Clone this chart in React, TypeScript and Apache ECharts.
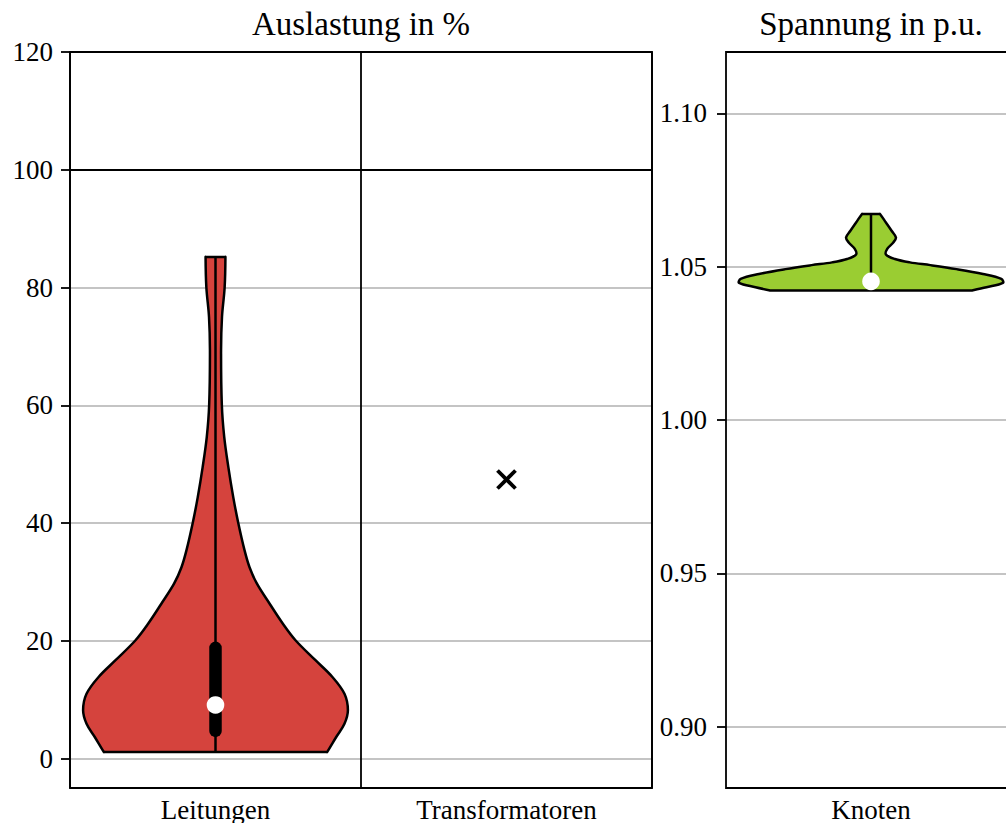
import React, { useEffect, useRef } from "react";
import * as echarts from "echarts";

const FONT = "'Liberation Serif', 'Times New Roman', serif";

const loadCategories = ["Leitungen", "Transformatoren"];
const voltageCategories = ["Knoten"];
const loadTicks = [0, 20, 40, 60, 80, 100, 120];
const voltageTicks = [0.9, 0.95, 1.0, 1.05, 1.1];
const loadLimit = [100];

// Leitungen violin outline: levels (%) and relative half-widths
const leitLevels = [1.1, 3.7, 5.9, 8.2, 11.0, 13.9, 16.7, 20.1, 22.9, 26.3, 29.7, 32.5, 35.4, 40, 44.4, 49.5, 54.6, 60, 69.3, 75, 80, 85.2];
const leitWidths = [0.843, 0.913, 0.974, 1.0, 0.974, 0.881, 0.755, 0.604, 0.509, 0.409, 0.313, 0.257, 0.219, 0.172, 0.134, 0.097, 0.066, 0.048, 0.042, 0.049, 0.069, 0.075];
// min, q1, median, q3, max
const leitBox = [1.1, 4.7, 9.1, 18.8, 85.2];

// Transformatoren single value
const trafoValue = [47.4];

// Knoten violin outline: levels (p.u.) and relative half-widths
const knotLevels = [1.0422, 1.0433, 1.0447, 1.046, 1.0476, 1.0492, 1.0505, 1.0514, 1.0525, 1.054, 1.0558, 1.0579, 1.0595, 1.0617, 1.0644, 1.0672];
const knotWidths = [0.76, 0.875, 1.0, 0.988, 0.849, 0.648, 0.45, 0.295, 0.181, 0.113, 0.123, 0.169, 0.189, 0.156, 0.113, 0.068];
const knotBox = [1.0422, 1.0446, 1.0452, 1.0458, 1.0672];

const HALF_BAND = 0.455;
const STROKE = 2.5;

function violinRenderer(levels: number[], widths: number[], box: number[], fill: string) {
  return (params: any, api: any) => {
    const cat = api.value(0);
    const band = api.size([1, 0])[0];
    const maxHalf = band * HALF_BAND;
    const right: number[][] = [];
    const left: number[][] = [];
    for (let i = 0; i < levels.length; i++) {
      const p = api.coord([cat, levels[i]]);
      right.push([p[0] + widths[i] * maxHalf, p[1]]);
      left.push([p[0] - widths[i] * maxHalf, p[1]]);
    }
    const n = levels.length;
    // keep flat ends sharp: tiny helper vertices next to the four corners
    const eps = 0.6;
    const rightPath = [[right[0][0] - eps, right[0][1]], ...right, [right[n - 1][0] - eps, right[n - 1][1]]];
    const leftRev = left.slice().reverse();
    const leftPath = [[leftRev[0][0] + eps, leftRev[0][1]], ...leftRev, [leftRev[n - 1][0] + eps, leftRev[n - 1][1]]];
    const points = rightPath.concat(leftPath);
    const pMin = api.coord([cat, box[0]]);
    const pQ1 = api.coord([cat, box[1]]);
    const pMed = api.coord([cat, box[2]]);
    const pQ3 = api.coord([cat, box[3]]);
    const pMax = api.coord([cat, box[4]]);
    const cx = pMed[0];
    return {
      type: "group",
      children: [
        { type: "polygon", shape: { points, smooth: 0.35 }, style: { fill, stroke: "#000", lineWidth: STROKE, lineJoin: "round" } },
        { type: "line", shape: { x1: cx, y1: pMin[1], x2: cx, y2: pMax[1] }, style: { stroke: "#000", lineWidth: STROKE } },
        { type: "line", shape: { x1: cx, y1: pQ1[1], x2: cx, y2: pQ3[1] }, style: { stroke: "#000", lineWidth: 12.5, lineCap: "round" } },
        { type: "circle", shape: { cx, cy: pMed[1], r: 8.8 }, style: { fill: "#fff" } },
      ],
    };
  };
}

function crossRenderer(params: any, api: any) {
  const p = api.coord([api.value(0), api.value(1)]);
  const s = 9;
  return {
    type: "group",
    children: [
      { type: "line", shape: { x1: p[0] - s, y1: p[1] - s, x2: p[0] + s, y2: p[1] + s }, style: { stroke: "#000", lineWidth: 3.8 } },
      { type: "line", shape: { x1: p[0] - s, y1: p[1] + s, x2: p[0] + s, y2: p[1] - s }, style: { stroke: "#000", lineWidth: 3.8 } },
    ],
  };
}

const labelStyle = { color: "#000", fontSize: 27, fontFamily: FONT };

export default function App() {
  const ref = useRef<HTMLDivElement>(null);
  useEffect(() => {
    if (!ref.current) return;
    const chart = echarts.init(ref.current, null, { renderer: "svg" });
    chart.setOption({
      animation: false,
      backgroundColor: "#fff",
      textStyle: { fontFamily: FONT },
      graphic: [
        { type: "text", x: 361, y: 24, style: { text: "Auslastung in %", fontSize: 33, fontFamily: FONT, fill: "#000", align: "center", verticalAlign: "middle", textAlign: "center", textVerticalAlign: "middle" } },
        { type: "text", x: 871, y: 24, style: { text: "Spannung in p.u.", fontSize: 33, fontFamily: FONT, fill: "#000", align: "center", verticalAlign: "middle", textAlign: "center", textVerticalAlign: "middle" } },
      ],
      grid: [
        { left: 70, top: 52, width: 582, height: 736, show: true, borderColor: "#000", borderWidth: 1.8, backgroundColor: "transparent", z: 10, outerBoundsMode: "none", containLabel: false },
        { left: 726, top: 52, width: 290, height: 736, show: true, borderColor: "#000", borderWidth: 1.8, backgroundColor: "transparent", z: 10, outerBoundsMode: "none", containLabel: false },
      ],
      xAxis: [
        {
          type: "category", gridIndex: 0, data: loadCategories, boundaryGap: true,
          axisLine: { show: false }, axisTick: { show: false },
          axisLabel: { ...labelStyle, margin: 8, interval: 0 },
          splitLine: { show: true, lineStyle: { color: "#000", width: 1.8 } },
        },
        {
          type: "category", gridIndex: 1, data: voltageCategories, boundaryGap: true,
          axisLine: { show: false }, axisTick: { show: false },
          axisLabel: { ...labelStyle, margin: 8, interval: 0 },
          splitLine: { show: false },
        },
      ],
      yAxis: [
        {
          type: "value", gridIndex: 0, min: -5, max: 120,
          axisLine: { show: false },
          axisTick: { show: true, length: 9, customValues: loadTicks, lineStyle: { color: "#000", width: 1.8 } },
          axisLabel: { ...labelStyle, margin: 17, customValues: loadTicks },
          splitLine: { show: true, lineStyle: { color: "#b0b0b0", width: 1.6 } },
        },
        {
          type: "value", gridIndex: 1, min: 0.88, max: 1.12,
          axisLine: { show: false },
          axisTick: { show: true, length: 9, customValues: voltageTicks, lineStyle: { color: "#000", width: 1.8 } },
          axisLabel: { ...labelStyle, margin: 19, customValues: voltageTicks, formatter: (v: number) => v.toFixed(2) },
          splitLine: { show: true, lineStyle: { color: "#b0b0b0", width: 1.6 } },
        },
      ],
      series: [
        {
          type: "custom", name: "Leitungen", xAxisIndex: 0, yAxisIndex: 0,
          data: [[0, leitBox[2]]],
          renderItem: violinRenderer(leitLevels, leitWidths, leitBox, "#d5433d"),
          markLine: {
            silent: true, symbol: "none", label: { show: false },
            lineStyle: { color: "#000", width: 2.2, type: "solid" },
            data: loadLimit.map((v) => ({ yAxis: v })),
          },
          z: 3,
        },
        {
          type: "custom", name: "Transformatoren", xAxisIndex: 0, yAxisIndex: 0,
          data: [[1, trafoValue[0]]],
          renderItem: crossRenderer,
          z: 3,
        },
        {
          type: "custom", name: "Knoten", xAxisIndex: 1, yAxisIndex: 1,
          data: [[0, knotBox[2]]],
          renderItem: violinRenderer(knotLevels, knotWidths, knotBox, "#9acd32"),
          z: 3,
        },
      ],
    });
    return () => chart.dispose();
  }, []);
  return (
    <div style={{ position: "fixed", left: 0, top: 0, width: 1006, height: 823, overflow: "hidden", background: "#fff" }}>
      <div ref={ref} style={{ width: 1006, height: 823 }} />
    </div>
  );
}
